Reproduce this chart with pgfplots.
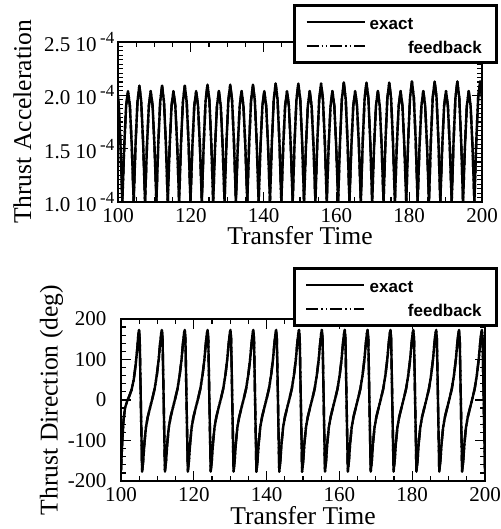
\documentclass[border=0pt]{standalone}
\usepackage{fontspec}
\setmainfont{Liberation Serif}
\setsansfont{Liberation Sans}
\usepackage{pgfplots}
\usepackage{pgfplotstable}
\pgfplotsset{compat=1.18}

% thrust acceleration (units of 1e-4)
\pgfplotstableread{
t y
99.63 2.09
100.15 1.94
100.67 1.55
101.19 1.00
101.71 1.52
102.23 1.90
102.75 2.04
103.27 1.90
103.79 1.52
104.31 1.00
104.83 1.55
105.35 1.94
105.87 2.09
106.39 1.94
106.91 1.55
107.43 1.00
107.95 1.52
108.47 1.90
108.99 2.04
109.51 1.90
110.03 1.52
110.55 1.00
111.07 1.55
111.59 1.94
112.11 2.09
112.63 1.94
113.15 1.55
113.67 1.00
114.19 1.52
114.71 1.90
115.23 2.04
115.75 1.90
116.27 1.52
116.79 1.00
117.31 1.55
117.83 1.94
118.35 2.09
118.87 1.94
119.39 1.55
119.91 1.00
120.43 1.52
120.95 1.90
121.47 2.04
121.99 1.90
122.51 1.52
123.03 1.00
123.55 1.55
124.07 1.95
124.59 2.10
125.11 1.95
125.63 1.55
126.15 1.00
126.67 1.52
127.19 1.90
127.71 2.04
128.23 1.90
128.75 1.52
129.27 1.00
129.79 1.55
130.31 1.95
130.83 2.10
131.35 1.95
131.87 1.55
132.39 1.00
132.91 1.52
133.43 1.90
133.95 2.04
134.47 1.90
134.99 1.52
135.51 1.00
136.03 1.55
136.55 1.95
137.07 2.10
137.59 1.95
138.11 1.55
138.63 1.00
139.15 1.52
139.67 1.90
140.19 2.04
140.71 1.90
141.23 1.52
141.75 1.00
142.27 1.56
142.79 1.96
143.31 2.11
143.83 1.96
144.35 1.56
144.87 1.00
145.39 1.52
145.91 1.90
146.43 2.04
146.95 1.90
147.47 1.52
147.99 1.00
148.51 1.56
149.03 1.96
149.55 2.11
150.07 1.96
150.59 1.56
151.11 1.00
151.63 1.52
152.15 1.90
152.67 2.04
153.19 1.90
153.71 1.52
154.23 1.00
154.75 1.56
155.27 1.96
155.79 2.11
156.31 1.96
156.83 1.56
157.35 1.00
157.87 1.52
158.39 1.90
158.91 2.04
159.43 1.90
159.95 1.52
160.47 1.00
160.99 1.56
161.51 1.97
162.03 2.12
162.55 1.97
163.07 1.56
163.59 1.00
164.11 1.52
164.63 1.90
165.15 2.04
165.67 1.90
166.19 1.52
166.71 1.00
167.23 1.56
167.75 1.97
168.27 2.12
168.79 1.97
169.31 1.56
169.83 1.00
170.35 1.52
170.87 1.90
171.39 2.04
171.91 1.90
172.43 1.52
172.95 1.00
173.47 1.56
173.99 1.97
174.51 2.12
175.03 1.97
175.55 1.56
176.07 1.00
176.59 1.52
177.11 1.90
177.63 2.04
178.15 1.90
178.67 1.52
179.19 1.00
179.71 1.57
180.23 1.98
180.75 2.13
181.27 1.98
181.79 1.57
182.31 1.00
182.83 1.52
183.35 1.90
183.87 2.04
184.39 1.90
184.91 1.52
185.43 1.00
185.95 1.57
186.47 1.98
186.99 2.13
187.51 1.98
188.03 1.57
188.55 1.00
189.07 1.52
189.59 1.90
190.11 2.04
190.63 1.90
191.15 1.52
191.67 1.00
192.19 1.57
192.71 1.98
193.23 2.13
193.75 1.98
194.27 1.57
194.79 1.00
195.31 1.52
195.83 1.90
196.35 2.04
196.87 1.90
197.39 1.52
197.91 1.00
198.43 1.57
198.95 1.98
199.47 2.13
199.99 1.98
200.51 1.57
201.03 1.00
}\accel

% thrust direction (deg)
\pgfplotstableread{
t y
100.00 -175
100.30 -110
100.70 -50
101.10 -20
101.60 -5
102.20 8
102.90 25
103.50 50
104.00 85
104.45 125
104.75 160
104.95 173
105.14 150
105.52 -40
105.80 -177
106.10 -150
106.45 -105
106.85 -68
107.35 -42
107.95 -20
108.60 3
109.25 28
109.85 62
110.35 100
110.75 140
111.05 165
111.23 173
111.42 150
111.80 -40
112.08 -177
112.38 -150
112.73 -105
113.13 -68
113.63 -42
114.23 -20
114.88 3
115.53 28
116.13 62
116.63 100
117.03 140
117.33 165
117.51 173
117.70 150
118.08 -40
118.36 -177
118.66 -150
119.01 -105
119.41 -68
119.91 -42
120.51 -20
121.16 3
121.81 28
122.41 62
122.91 100
123.31 140
123.61 165
123.79 173
123.98 150
124.36 -40
124.64 -177
124.94 -150
125.29 -105
125.69 -68
126.19 -42
126.79 -20
127.44 3
128.09 28
128.69 62
129.19 100
129.59 140
129.89 165
130.07 173
130.26 150
130.64 -40
130.92 -177
131.22 -150
131.57 -105
131.97 -68
132.47 -42
133.07 -20
133.72 3
134.37 28
134.97 62
135.47 100
135.87 140
136.17 165
136.35 173
136.54 150
136.92 -40
137.20 -177
137.50 -150
137.85 -105
138.25 -68
138.75 -42
139.35 -20
140.00 3
140.65 28
141.25 62
141.75 100
142.15 140
142.45 165
142.63 173
142.82 150
143.20 -40
143.48 -177
143.78 -150
144.13 -105
144.53 -68
145.03 -42
145.63 -20
146.28 3
146.93 28
147.53 62
148.03 100
148.43 140
148.73 165
148.91 173
149.10 150
149.48 -40
149.76 -177
150.06 -150
150.41 -105
150.81 -68
151.31 -42
151.91 -20
152.56 3
153.21 28
153.81 62
154.31 100
154.71 140
155.01 165
155.19 173
155.38 150
155.76 -40
156.04 -177
156.34 -150
156.69 -105
157.09 -68
157.59 -42
158.19 -20
158.84 3
159.49 28
160.09 62
160.59 100
160.99 140
161.29 165
161.47 173
161.66 150
162.04 -40
162.32 -177
162.62 -150
162.97 -105
163.37 -68
163.87 -42
164.47 -20
165.12 3
165.77 28
166.37 62
166.87 100
167.27 140
167.57 165
167.75 173
167.94 150
168.32 -40
168.60 -177
168.90 -150
169.25 -105
169.65 -68
170.15 -42
170.75 -20
171.40 3
172.05 28
172.65 62
173.15 100
173.55 140
173.85 165
174.03 173
174.22 150
174.60 -40
174.88 -177
175.18 -150
175.53 -105
175.93 -68
176.43 -42
177.03 -20
177.68 3
178.33 28
178.93 62
179.43 100
179.83 140
180.13 165
180.31 173
180.50 150
180.88 -40
181.16 -177
181.46 -150
181.81 -105
182.21 -68
182.71 -42
183.31 -20
183.96 3
184.61 28
185.21 62
185.71 100
186.11 140
186.41 165
186.59 173
186.78 150
187.16 -40
187.44 -177
187.74 -150
188.09 -105
188.49 -68
188.99 -42
189.59 -20
190.24 3
190.89 28
191.49 62
191.99 100
192.39 140
192.69 165
192.87 173
193.06 150
193.44 -40
193.72 -177
194.02 -150
194.37 -105
194.77 -68
195.27 -42
195.87 -20
196.52 3
197.17 28
197.77 62
198.27 100
198.67 140
198.97 165
199.15 173
199.34 150
199.72 -40
200.00 -177
}\direc

\newcommand{\sci}[1]{#1 10\,\raisebox{0.85ex}{\fontsize{8.5}{9}\selectfont -4}}

\pgfplotsset{
  panel/.style={
    scale only axis, width=182pt,
    xmin=100, xmax=200,
    xtick={100,120,140,160,180,200},
    xticklabels={100,120,140,160,180,200},
    minor x tick num=3,
    tick align=inside,
    major tick length=5pt, minor tick length=2.5pt,
    every tick/.style={black, line width=0.6pt},
    axis line style={line width=1pt},
    ticklabel style={font=\fontsize{10.5}{11}\selectfont},
    xticklabel style={inner ysep=0pt, yshift=-3pt},
    label style={font=\fontsize{12.8}{14}\selectfont, inner sep=0pt},
    legend image code/.code={\draw[##1] (0pt,0pt) -- (29pt,0pt);},
    legend style={draw=black, line width=1.3pt, fill=white, anchor=north west,
      font=\sffamily\bfseries\fontsize{8.5}{9}\selectfont,
      inner xsep=5.5pt, inner ysep=2.5pt, row sep=0.5pt,
      nodes={text height=7.5pt, text depth=0pt},
      /tikz/every even column/.append style={column sep=5pt}},
    legend cell align=left,
  },
  exact/.style={black, line width=1.2pt, line join=round},
  feedback/.style={black, line width=1.2pt, line join=round,
    dash pattern=on 6pt off 1.5pt on 0.7pt off 1.5pt on 0.7pt off 1.5pt},
}

\begin{document}
\begin{tikzpicture}
\path[use as bounding box] (0,0) rectangle (250.5pt,264.5pt);

\begin{axis}[panel, at={(59pt,163.5pt)}, anchor=south west, height=80pt,
  ymin=1, ymax=2.5, ytick={1,1.5,2,2.5},
  yticklabels={\sci{1.0},\sci{1.5},\sci{2.0},\sci{2.5}},
  minor y tick num=11,
  yticklabel style={xshift=1.7pt},
  xlabel={Transfer Time},
  xlabel style={at={(axis description cs:0.5,-0.21)}, anchor=center},
  ylabel={Thrust Acceleration},
  ylabel style={at={(axis description cs:-0.2624,0.5)}, anchor=center},
  legend style={at={(0.4808,1.2375)}},
]
\addplot[exact] table[x=t, y=y] {\accel};
\addlegendentry{\makebox[56pt][l]{exact}}
\addplot[feedback] table[x=t, y=y] {\accel};
\addlegendentry{\makebox[56pt][r]{feedback}}
\end{axis}

\begin{axis}[panel, at={(60.5pt,24pt)}, anchor=south west, height=81pt,
  ymin=-200, ymax=200, ytick={-200,-100,0,100,200},
  yticklabels={-200,-100,0,100,200},
  minor y tick num=4,
  yticklabel style={xshift=-3.8pt},
  xlabel={Transfer Time},
  xlabel style={at={(axis description cs:0.5,-0.215)}, anchor=center},
  ylabel={Thrust Direction (deg)},
  ylabel style={at={(axis description cs:-0.1909,0.5)}, anchor=center},
  legend style={at={(0.4725,1.321)}},
]
\addplot[exact] table[x=t, y=y] {\direc};
\addlegendentry{\makebox[56pt][l]{exact}}
\addplot[feedback] table[x=t, y=y] {\direc};
\addlegendentry{\makebox[56pt][r]{feedback}}
\end{axis}
\end{tikzpicture}
\end{document}
